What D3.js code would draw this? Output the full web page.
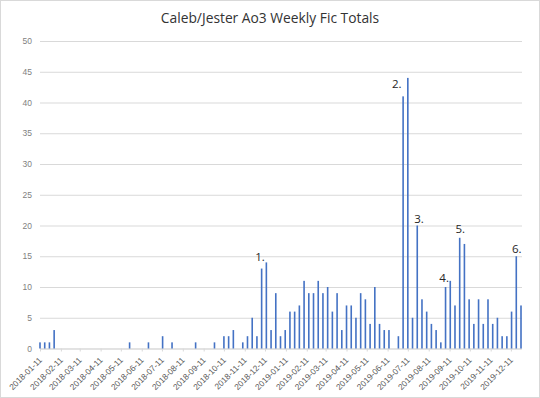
<!DOCTYPE html>
<html>
<head>
<meta charset="utf-8">
<script src="https://cdn.jsdelivr.net/npm/d3@7"></script>
<style>
  body { margin: 0; background: #fff; }
  svg { display: block; font-family: "Open Sans", sans-serif; }
</style>
</head>
<body>
<div id="chart"></div>
<script>
// weekly totals (weeks with no fics are left out)
var weekDates = [
  "2018-01-11","2018-01-18","2018-01-25","2018-02-01","2018-05-24","2018-06-21","2018-07-12","2018-07-26",
  "2018-08-30","2018-09-27","2018-10-11","2018-10-18","2018-10-25","2018-11-08","2018-11-15","2018-11-22",
  "2018-11-29","2018-12-06","2018-12-13","2018-12-20","2018-12-27","2019-01-03","2019-01-10","2019-01-17",
  "2019-01-24","2019-01-31","2019-02-07","2019-02-14","2019-02-21","2019-02-28","2019-03-07","2019-03-14",
  "2019-03-21","2019-03-28","2019-04-04","2019-04-11","2019-04-18","2019-04-25","2019-05-02","2019-05-09",
  "2019-05-16","2019-05-23","2019-05-30","2019-06-06","2019-06-13","2019-06-27","2019-07-04","2019-07-11",
  "2019-07-18","2019-07-25","2019-08-01","2019-08-08","2019-08-15","2019-08-22","2019-08-29","2019-09-05",
  "2019-09-12","2019-09-19","2019-09-26","2019-10-03","2019-10-10","2019-10-17","2019-10-24","2019-10-31",
  "2019-11-07","2019-11-14","2019-11-21","2019-11-28","2019-12-05","2019-12-12","2019-12-19","2019-12-26"
];
var weekTotals = [
  1,1,1,3,1,1,2,1,
  1,1,2,2,3,1,2,5,
  2,13,14,3,9,2,3,6,
  6,7,11,9,9,11,9,10,
  6,9,3,7,7,5,9,8,
  4,10,4,3,3,2,41,44,
  5,20,8,6,4,3,1,10,
  11,7,18,17,8,4,8,4,
  8,4,5,2,2,6,15,7
];
var firstWeek = "2018-01-11", lastWeek = "2019-12-26";

var monthTicks = [
  "2018-01-11","2018-02-11","2018-03-11","2018-04-11","2018-05-11","2018-06-11",
  "2018-07-11","2018-08-11","2018-09-11","2018-10-11","2018-11-11","2018-12-11",
  "2019-01-11","2019-02-11","2019-03-11","2019-04-11","2019-05-11","2019-06-11",
  "2019-07-11","2019-08-11","2019-09-11","2019-10-11","2019-11-11","2019-12-11"
];
var yTicks = [0,5,10,15,20,25,30,35,40,45,50];

// numbered notes on the chart
var noteLabels = ["1.","2.","3.","4.","5.","6."];
var noteDates  = ["2018-12-13","2019-07-04","2019-07-25","2019-09-12","2019-09-26","2019-12-19"];

var chartTitle = "Caleb/Jester Ao3 Weekly Fic Totals";

var parse = d3.timeParse("%Y-%m-%d");
var data = weekDates.map(function(d,i){ return {date: parse(d), value: weekTotals[i]}; });

var W = 540, H = 398;
var plotL = 40, plotR = 521, plotT = 41, plotB = 348.5;

var svg = d3.select("#chart").append("svg")
  .attr("width", W).attr("height", H);

svg.append("rect")
  .attr("x",0.5).attr("y",0.5).attr("width",W-1).attr("height",H-1)
  .attr("fill","#fff").attr("stroke","#d9d9d9");

var x = d3.scaleTime().domain([parse(firstWeek), parse(lastWeek)]).range([plotL, plotR]);
var y = d3.scaleLinear().domain([0, 50]).range([plotB, plotT]);

// gridlines + y labels
var ya = svg.append("g")
  .attr("transform","translate(" + plotL + ",0)")
  .call(d3.axisLeft(y).tickValues(yTicks).tickSize(-(plotR - plotL + 1)).tickPadding(8));
ya.select(".domain").remove();
ya.selectAll("line").attr("stroke","#d9d9d9");
ya.selectAll("text").attr("fill","#7f7f7f").style("font-size","8.5px");

// x axis
var xa = svg.append("g")
  .attr("transform","translate(0," + plotB + ")")
  .call(d3.axisBottom(x).tickValues(monthTicks.map(parse)).tickSize(3).tickSizeOuter(0)
    .tickFormat(d3.timeFormat("%Y-%m-%d")));
xa.select(".domain").attr("stroke","#d9d9d9");
xa.selectAll("line").attr("stroke","#d9d9d9");
xa.selectAll("text")
  .attr("fill","#595959")
  .style("font-size","8.4px")
  .attr("text-anchor","end")
  .attr("x",0).attr("y",0).attr("dy","0.35em")
  .attr("transform","translate(0,10) rotate(-45)");

// bars
svg.append("g").selectAll("rect")
  .data(data)
  .enter().append("rect")
  .attr("x", function(d){ return x(d.date) - 0.8; })
  .attr("width", 1.6)
  .attr("y", function(d){ return y(d.value); })
  .attr("height", function(d){ return plotB - y(d.value); })
  .attr("fill","#4472c4");

// notes: anchor and nudge from the bar top
var noteLayout = [
  {anchor:"end",    dx:-1.5, dy:-1.7},
  {anchor:"end",    dx:-1.5, dy:-8},
  {anchor:"start",  dx:-3,   dy:-2.5},
  {anchor:"end",    dx:-1.3, dy:1.3},
  {anchor:"middle", dx:0.5,  dy:-4.5},
  {anchor:"middle", dx:0.5,  dy:-3.6}
];
var byDate = {};
data.forEach(function(d){ byDate[+d.date] = d.value; });

svg.append("g").selectAll("text")
  .data(noteLabels)
  .enter().append("text")
  .attr("x", function(d,i){ return x(parse(noteDates[i])) + noteLayout[i].dx; })
  .attr("y", function(d,i){ return y(byDate[+parse(noteDates[i])]) + noteLayout[i].dy; })
  .attr("text-anchor", function(d,i){ return noteLayout[i].anchor; })
  .attr("fill","#262626")
  .style("font-size","11.5px")
  .text(function(d){ return d; });

svg.append("text")
  .attr("x", 270).attr("y", 22.7)
  .attr("text-anchor","middle")
  .attr("fill","#333")
  .style("font-size","13.8px")
  .text(chartTitle);
</script>
</body>
</html>
